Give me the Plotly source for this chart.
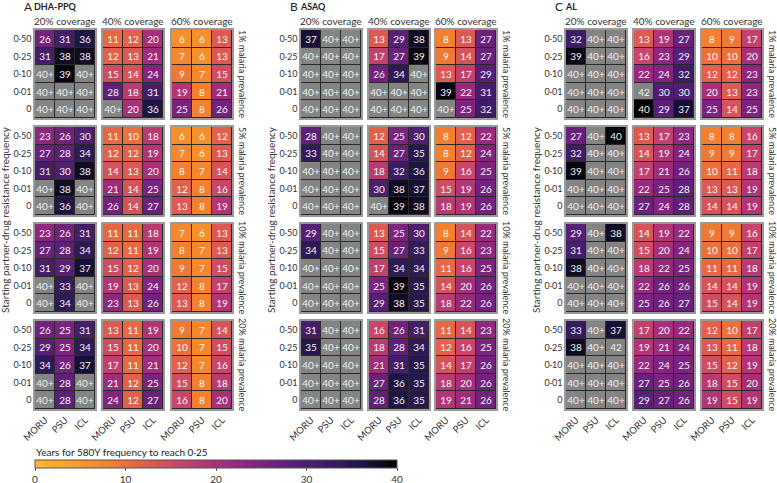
import plotly.graph_objects as go

W, H = 777, 483

CATS_X = ["MORU", "PSU", "ICL"]
CATS_Y = ["0·50", "0·25", "0·10", "0·01", "0"]
COVERAGES = ["20% coverage", "40% coverage", "60% coverage"]
PREVALENCES = ["1% malaria prevalence", "5% malaria prevalence",
               "10% malaria prevalence", "20% malaria prevalence"]
DRUGS = ["DHA-PPQ", "ASAQ", "AL"]
LETTERS = ["A", "B", "C"]
P = "40+"

# each list: [20% coverage block, 40% coverage block, 60% coverage block]; rows 0·50 .. 0; cols MORU, PSU, ICL
dha_1 = [[[26, 31, 36], [31, 38, 38], [P, 39, P], [P, P, P], [P, P, P]],
         [[11, 12, 20], [12, 13, 21], [15, 14, 24], [28, 18, 31], [P, 20, 36]],
         [[6, 6, 13], [7, 6, 13], [9, 7, 15], [19, 8, 21], [25, 8, 26]]]
dha_5 = [[[23, 26, 30], [27, 28, 34], [31, 30, 38], [P, 38, P], [P, 36, P]],
         [[11, 10, 18], [12, 12, 19], [14, 13, 20], [21, 14, 25], [26, 14, 27]],
         [[6, 6, 12], [7, 6, 13], [8, 7, 14], [12, 8, 16], [13, 8, 19]]]
dha_10 = [[[23, 26, 31], [27, 28, 34], [31, 29, 37], [P, 33, P], [P, 34, P]],
          [[11, 11, 18], [12, 11, 19], [15, 12, 20], [19, 13, 24], [23, 13, 26]],
          [[7, 6, 13], [8, 7, 13], [9, 7, 15], [12, 8, 17], [13, 8, 19]]]
dha_20 = [[[26, 25, 31], [29, 25, 34], [34, 26, 37], [P, 28, P], [P, 28, P]],
          [[13, 11, 19], [15, 11, 20], [17, 11, 21], [21, 12, 25], [24, 12, 27]],
          [[9, 7, 14], [10, 7, 15], [12, 7, 16], [15, 8, 18], [16, 8, 20]]]

asaq_1 = [[[37, P, P], [P, P, P], [P, P, P], [P, P, P], [P, P, P]],
          [[13, 29, 38], [17, 27, 39], [26, 34, P], [P, P, P], [P, P, P]],
          [[8, 13, 27], [9, 14, 27], [13, 17, 29], [39, 22, 31], [P, 25, 32]]]
asaq_5 = [[[28, P, P], [33, P, P], [P, P, P], [P, P, P], [P, P, P]],
          [[12, 25, 30], [14, 27, 35], [18, 32, 36], [30, 38, 37], [P, 39, 38]],
          [[8, 12, 22], [8, 12, 24], [9, 16, 25], [15, 19, 26], [18, 19, 26]]]
asaq_10 = [[[29, P, P], [34, P, P], [P, P, P], [P, P, P], [P, P, P]],
           [[13, 25, 30], [15, 27, 33], [17, 34, 34], [25, 39, 35], [29, 38, 35]],
           [[8, 14, 22], [9, 16, 23], [11, 16, 25], [14, 20, 26], [18, 22, 26]]]
asaq_20 = [[[31, P, P], [35, P, P], [P, P, P], [P, P, P], [P, P, P]],
           [[16, 26, 31], [18, 28, 34], [21, 31, 35], [27, 36, 35], [28, 36, 35]],
           [[11, 14, 23], [12, 16, 25], [14, 17, 26], [18, 20, 26], [19, 21, 26]]]

al_1 = [[[32, P, P], [39, P, P], [P, P, P], [P, P, P], [P, P, P]],
        [[13, 19, 27], [16, 23, 29], [22, 24, 32], [42, 30, 30], [40, 29, 37]],
        [[8, 9, 17], [10, 10, 20], [12, 12, 23], [20, 13, 23], [25, 14, 25]]]
al_5 = [[[27, P, 40], [32, P, P], [39, P, P], [P, P, P], [P, P, P]],
        [[13, 17, 23], [14, 19, 24], [17, 21, 26], [22, 25, 28], [27, 24, 28]],
        [[8, 8, 16], [9, 9, 17], [10, 11, 18], [13, 13, 19], [14, 14, 19]]]
al_10 = [[[29, P, 38], [31, P, P], [38, P, P], [P, P, P], [P, P, P]],
         [[14, 19, 22], [15, 20, 24], [18, 22, 25], [22, 26, 26], [25, 26, 27]],
         [[9, 9, 16], [10, 10, 17], [11, 11, 18], [14, 14, 19], [15, 14, 19]]]
al_20 = [[[33, P, 37], [38, P, 42], [P, P, P], [P, P, P], [P, P, P]],
         [[17, 20, 22], [19, 21, 24], [22, 24, 25], [27, 25, 26], [29, 27, 26]],
         [[12, 10, 17], [13, 11, 18], [15, 12, 19], [18, 15, 20], [19, 15, 19]]]

PANELS = [[dha_1, dha_5, dha_10, dha_20],
          [asaq_1, asaq_5, asaq_10, asaq_20],
          [al_1, al_5, al_10, al_20]]

CB_TICKS = [0, 10, 20, 30, 40]
CB_TITLE = "Years for 580Y frequency to reach 0·25"

# ---------------- styling / geometry ----------------
FONT = "Lato"
TXT = "#333333"
GREY = "#848484"
COLORSCALE = [
    [0.0, "#fcb62c"], [0.1, "#f99f2c"], [0.2, "#f2802e"], [0.3, "#e2614a"],
    [0.4, "#c8466a"], [0.5, "#a83079"], [0.6, "#852480"], [0.7, "#5f207a"],
    [0.8, "#3e1c66"], [0.9, "#1f1545"], [1.0, "#000000"],
]
PANEL_X = [[35, 103, 172], [301, 369, 436], [566, 634, 702]]
BW = 60
BLOCK_TOP = [30, 127, 224, 321]
BH = 88


def fx(px):
    return px / W


def fy(py):
    return 1 - py / H


def is_grey(v):
    return isinstance(v, str) or v > 40


fig = go.Figure()
annotations = []
k = 0
for p, panel in enumerate(PANELS):
    for r, prev_blocks in enumerate(panel):
        for c, block in enumerate(prev_blocks):
            k += 1
            xa = "x" if k == 1 else f"x{k}"
            ya = "y" if k == 1 else f"y{k}"
            z_col = [[None if is_grey(v) else v for v in row] for row in block]
            t_col = [["" if is_grey(v) else str(v) for v in row] for row in block]
            z_gr = [[1 if is_grey(v) else None for v in row] for row in block]
            t_gr = [[str(v) if is_grey(v) else "" for v in row] for row in block]
            fig.add_trace(go.Heatmap(
                x=CATS_X, y=CATS_Y, z=z_col, text=t_col, texttemplate="%{text}",
                textfont=dict(color="#f5f5f5", size=10, family=FONT),
                coloraxis="coloraxis", xgap=1, ygap=1, xaxis=xa, yaxis=ya,
                hoverinfo="skip"))
            if any(any(v is not None for v in row) for row in z_gr):
                fig.add_trace(go.Heatmap(
                    x=CATS_X, y=CATS_Y, z=z_gr, text=t_gr, texttemplate="%{text}",
                    textfont=dict(color="#f0f0f0", size=10, family=FONT),
                    colorscale=[[0, GREY], [1, GREY]], showscale=False,
                    xgap=1, ygap=1, xaxis=xa, yaxis=ya, hoverinfo="skip"))
            x0 = PANEL_X[p][c]
            y0 = BLOCK_TOP[r]
            sfx = "" if k == 1 else str(k)
            fig.layout[f"xaxis{sfx}"] = dict(
                domain=[fx(x0), fx(x0 + BW)], anchor=ya, type="category",
                categoryorder="array", categoryarray=CATS_X, automargin=False,
                showticklabels=(r == 3), tickangle=-45, ticks="",
                tickfont=dict(size=9.5, color=TXT, family=FONT),
                showline=True, mirror=True, linecolor="#9a9a9a", linewidth=1.5,
                showgrid=False, zeroline=False, fixedrange=True)
            fig.layout[f"yaxis{sfx}"] = dict(
                domain=[fy(y0 + BH), fy(y0)], anchor=xa, type="category",
                categoryorder="array", categoryarray=CATS_Y, autorange="reversed",
                automargin=False,
                showticklabels=(c == 0), ticks="", ticklabelstandoff=0,
                tickfont=dict(size=9, color=TXT, family=FONT),
                showline=True, mirror=True, linecolor="#9a9a9a", linewidth=1.5,
                showgrid=False, zeroline=False, fixedrange=True)
            if r == 0:
                annotations.append(dict(
                    text=COVERAGES[c], x=fx(x0 + BW / 2), y=fy(21), xref="paper",
                    yref="paper", xanchor="center", yanchor="middle", showarrow=False,
                    font=dict(size=10, color=TXT, family=FONT)))
        # prevalence label on the right
        xr = PANEL_X[p][2] + BW + 11
        annotations.append(dict(
            text=PREVALENCES[r], x=fx(xr), y=fy(BLOCK_TOP[r] + BH / 2), xref="paper",
            yref="paper", xanchor="center", yanchor="middle", showarrow=False,
            textangle=90, font=dict(size=9, color=TXT, family=FONT)))
    # panel titles
    annotations.append(dict(
        text=LETTERS[p], x=fx(PANEL_X[p][0] - 13), y=fy(6), xref="paper",
        yref="paper", xanchor="left", yanchor="middle", showarrow=False,
        font=dict(size=12, color="#222222", family=FONT)))
    annotations.append(dict(
        text=f"<b>{DRUGS[p]}</b>", x=fx(PANEL_X[p][0] - 3), y=fy(7), xref="paper",
        yref="paper", xanchor="left", yanchor="middle", showarrow=False,
        font=dict(size=9, color="#222222", family=FONT)))
    # y-axis title
    annotations.append(dict(
        text="Starting partner-drug resistance frequency", x=fx(PANEL_X[p][0] - 30),
        y=fy(220), xref="paper", yref="paper", xanchor="center", yanchor="middle",
        showarrow=False, textangle=-90, font=dict(size=10, color=TXT, family=FONT)))

# colorbar title
annotations.append(dict(
    text=CB_TITLE, x=fx(34), y=fy(452), xref="paper", yref="paper", xanchor="left",
    yanchor="middle", showarrow=False, font=dict(size=10, color="#222222", family=FONT)))

fig.update_layout(
    width=W, height=H, margin=dict(l=0, r=0, t=0, b=0, autoexpand=False),
    paper_bgcolor="white", plot_bgcolor="#2a2a2a",
    font=dict(family=FONT, color=TXT),
    annotations=annotations,
    coloraxis=dict(
        colorscale=COLORSCALE, cmin=0, cmax=40,
        colorbar=dict(
            orientation="h", x=fx(35), xanchor="left", len=362 / W, lenmode="fraction",
            thickness=8, y=fy(460), yanchor="top", ypad=0, xpad=0,
            tickvals=CB_TICKS, ticks="outside", ticklen=3, tickcolor="#555",
            tickfont=dict(size=10, color=TXT, family=FONT),
            outlinecolor="#555555", outlinewidth=1)),
)

fig.write_html("out.html", post_script="document.body.style.margin='0';",
               config={"displayModeBar": False})
